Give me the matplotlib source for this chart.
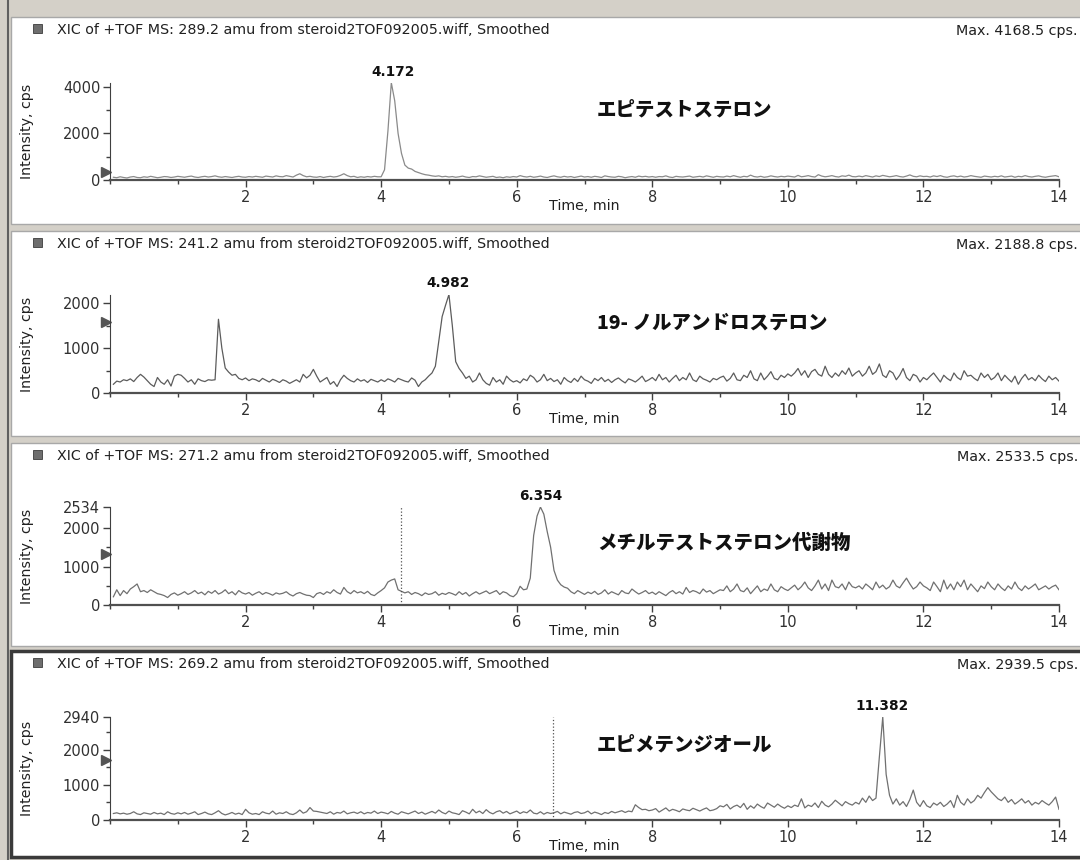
import numpy as np
import matplotlib
matplotlib.use("Agg")
import matplotlib.pyplot as plt
from matplotlib.patches import Rectangle
from matplotlib.lines import Line2D
from matplotlib.ticker import MultipleLocator
from matplotlib.transforms import blended_transform_factory

plt.rcParams['font.family'] = ['DejaVu Sans', 'Noto Sans CJK JP']

# scan grid: one point every 0.05 min from 0.05 to 14.0
scan_step = 0.05

mz = ["289.2", "241.2", "271.2", "269.2"]
max_cps = [4168.5, 2188.8, 2533.5, 2939.5]
peak_rt = ["4.172", "4.982", "6.354", "11.382"]
names = ["エピテストステロン", "19- ノルアンドロステロン",
         "メチルテストステロン代謝物", "エピメテンジオール"]
marker_level = [370, 1580, 1330, 1720]
cursor_rt = [None, None, 4.29, 6.53]
yticks_major = [[0, 2000, 4000], [0, 1000, 2000],
                [0, 1000, 2000, 2534], [0, 1000, 2000, 2940]]
yticks_minor = [[1000, 3000], [500, 1500], [500, 1500], [500, 1500, 2500]]

xic_289 = [
    130, 110, 150, 120, 100, 140, 160, 120, 110, 150, 130, 170, 140, 110, 130, 160, 150, 120, 140, 170,
    150, 130, 160, 180, 140, 120, 150, 170, 140, 160, 190, 150, 130, 160, 140, 120, 150, 170, 140, 130,
    160, 140, 170, 150, 130, 180, 160, 140, 190, 160, 150, 200, 170, 140, 220, 280, 200, 150, 170, 140,
    130, 160, 120, 150, 170, 140, 160, 210, 280, 200, 150, 170, 120, 150, 130, 160, 140, 170, 150, 150,
    450, 2100, 4168.5, 3400, 2000, 1150, 650, 520, 480, 380, 330, 280, 240, 220, 190, 170, 190, 150, 170, 140,
    160, 130, 150, 180, 140, 120, 160, 150, 190, 160, 130, 150, 170, 120, 140, 110, 150, 130, 160, 140,
    200, 160, 140, 170, 130, 150, 180, 140, 120, 160, 190, 150, 130, 170, 140, 160, 120, 150, 180, 140,
    160, 130, 170, 150, 120, 190, 160, 140, 130, 170, 150, 110, 140, 160, 130, 180, 150, 170, 140, 160,
    130, 160, 150, 190, 140, 120, 170, 150, 140, 160, 180, 130, 150, 170, 140, 190, 160, 130, 170, 150,
    140, 180, 150, 200, 160, 130, 170, 150, 220, 160, 140, 170, 130, 150, 190, 160, 140, 170, 150, 180,
    160, 140, 210, 150, 170, 200, 160, 140, 240, 180, 150, 170, 200, 160, 140, 190, 170, 220, 160, 150,
    180, 150, 200, 170, 140, 190, 160, 210, 180, 150, 170, 200, 160, 140, 180, 230, 170, 150, 190, 160,
    170, 140, 190, 160, 200, 150, 130, 170, 190, 150, 180, 140, 160, 200, 170, 150, 130, 180, 160, 140,
    170, 150, 190, 140, 160, 180, 130, 170, 150, 200, 160, 140, 170, 190, 150, 130, 160, 180, 200, 150,
]

xic_241 = [
    200, 270, 250, 300, 280, 320, 260, 350, 420, 360, 280, 200, 150, 350, 250, 200, 300, 160, 380, 420,
    400, 330, 250, 300, 200, 320, 280, 260, 300, 290, 300, 1640, 1000, 560, 470, 400, 420, 330, 300, 340,
    280, 320, 300, 260, 330, 290, 250, 310, 280, 240, 300, 270, 220, 260, 300, 250, 420, 340, 400, 530,
    380, 250, 300, 350, 200, 260, 150, 300, 400, 330, 280, 250, 320, 270, 300, 240, 310, 280, 250, 300,
    260, 320, 290, 250, 330, 300, 270, 250, 340, 290, 150, 250, 300, 380, 450, 600, 1150, 1700, 1950, 2188.8,
    1500, 700, 550, 450, 330, 380, 250, 300, 450, 300, 220, 180, 350, 250, 300, 200, 380, 300, 250, 280,
    230, 320, 280, 400, 350, 250, 300, 420, 280, 330, 260, 300, 200, 350, 280, 240, 330, 260, 380, 300,
    270, 220, 330, 280, 350, 260, 310, 240, 300, 340, 280, 230, 320, 290, 250, 310, 380, 260, 300, 350,
    280, 420, 300, 350, 250, 330, 400, 280, 350, 300, 450, 300, 260, 380, 320, 290, 250, 330, 300, 350,
    380, 270, 330, 450, 300, 280, 400, 350, 500, 320, 280, 450, 300, 380, 480, 330, 300, 400, 350, 430,
    380, 450, 550, 400, 500, 350, 480, 530, 420, 380, 600, 420, 350, 450, 380, 500, 420, 560, 380, 450,
    500, 380, 450, 600, 420, 480, 650, 400, 350, 500, 450, 300, 400, 550, 350, 280, 420, 380, 250, 350,
    300, 380, 450, 350, 250, 400, 330, 280, 450, 350, 300, 500, 380, 400, 330, 280, 450, 350, 420, 300,
    350, 450, 280, 400, 320, 250, 380, 200, 330, 420, 300, 350, 280, 400, 320, 260, 380, 300, 350, 270,
]

xic_271 = [
    220, 400, 250, 380, 300, 420, 480, 550, 350, 380, 330, 400, 350, 300, 280, 250, 200, 280, 320, 260,
    300, 350, 280, 320, 380, 300, 340, 270, 360, 310, 380, 290, 330, 400, 300, 350, 270, 380, 320, 290,
    330, 260, 310, 350, 280, 330, 300, 260, 320, 290, 310, 350, 280, 240, 300, 330, 290, 260, 250, 200,
    300, 330, 280, 350, 310, 400, 330, 290, 460, 350, 300, 380, 320, 350, 300, 360, 280, 250, 320, 380,
    450, 600, 650, 680, 400, 360, 320, 350, 280, 330, 300, 250, 320, 280, 300, 350, 260, 310, 280, 330,
    300, 260, 350, 280, 330, 240, 300, 350, 290, 330, 370, 300, 340, 380, 280, 350, 320, 250, 220, 300,
    490, 400, 420, 700, 1800, 2300, 2533.5, 2350, 1900, 1500, 900, 650, 530, 470, 440, 350, 300, 380, 330, 280,
    340, 300, 360, 280, 320, 400, 290, 350, 310, 270, 380, 320, 300, 420, 350, 290, 330, 380, 300, 340,
    280, 350, 300, 250, 330, 380, 300, 350, 290, 460, 330, 380, 350, 300, 420, 340, 380, 300, 350, 400,
    380, 500, 350, 420, 550, 380, 350, 450, 300, 400, 500, 350, 420, 380, 550, 400, 350, 480, 420, 380,
    450, 520, 400, 480, 600, 450, 380, 500, 650, 420, 550, 380, 650, 480, 450, 550, 400, 600, 480, 450,
    500, 420, 550, 480, 400, 600, 450, 520, 420, 480, 650, 500, 450, 580, 700, 550, 420, 480, 600, 500,
    450, 380, 600, 480, 350, 650, 420, 550, 400, 600, 480, 650, 400, 550, 450, 350, 500, 430, 600, 480,
    400, 550, 450, 380, 500, 420, 600, 450, 380, 500, 420, 480, 550, 400, 450, 500, 420, 480, 520, 400,
]

xic_269 = [
    180, 200, 170, 190, 160, 180, 230, 170, 150, 200, 180, 160, 210, 170, 190, 150, 230, 180, 160, 200,
    170, 210, 160, 190, 230, 150, 180, 220, 170, 150, 200, 260, 180, 140, 170, 210, 160, 190, 150, 300,
    200, 160, 180, 150, 230, 190, 170, 250, 160, 200, 180, 230, 170, 150, 200, 280, 190, 230, 350, 250,
    240, 220, 200, 180, 230, 160, 210, 190, 250, 170, 200, 220, 180, 230, 170, 210, 190, 250, 180, 220,
    200, 170, 240, 190, 160, 230, 200, 170, 210, 250, 180, 220, 160, 200, 240, 190, 280, 210, 170, 250,
    200, 180, 150, 260, 220, 170, 300, 200, 250, 180, 290, 210, 170, 230, 260, 190, 240, 170, 210, 250,
    180, 230, 200, 280, 190, 170, 230, 160, 210, 180, 200, 240, 170, 220, 190, 160, 210, 230, 180, 200,
    250, 170, 220, 190, 150, 210, 180, 240, 200, 230, 260, 210, 250, 230, 430, 350, 290, 300, 260, 280,
    320, 220, 280, 340, 250, 300, 270, 230, 310, 280, 260, 330, 290, 250, 300, 340, 260, 280, 320, 400,
    370, 440, 310, 380, 420, 350, 470, 300, 400, 330, 450, 380, 330, 480, 420, 360, 450, 380, 330, 400,
    350, 420, 380, 600, 340, 420, 380, 480, 350, 530, 420, 370, 450, 560, 480, 400, 520, 460, 420, 500,
    450, 620, 500, 680, 550, 620, 1800, 2939.5, 1300, 700, 450, 600, 420, 520, 380, 580, 850, 500, 380, 550,
    400, 350, 480, 420, 500, 380, 450, 550, 350, 700, 500, 420, 600, 480, 550, 700, 620, 780, 920, 800,
    700, 600, 550, 650, 500, 580, 450, 520, 600, 480, 550, 420, 500, 450, 550, 480, 420, 520, 650, 300,
]

traces = [xic_289, xic_241, xic_271, xic_269]
for tr in traces:
    assert len(tr) == 280, len(tr)

W, H = 1080, 860


def fx(px):
    return px / W


def fy(py):
    return 1 - py / H


# pixel layout of the four panes
boxes = [(17, 224), (231, 436), (443, 646), (651, 857)]
plot_y = [(82.7, 180.3), (294.5, 393.3), (507, 605.3), (717, 819.8)]
name_y = [110, 323, 543, 745]
line_col = ['#8a8a8a', '#5c5c5c', '#707070', '#707070']
x_left, x_right = 110, 1059

fig = plt.figure(figsize=(10.8, 8.6), dpi=100, facecolor='#d4d0c8')
fig.add_artist(Line2D([fx(8), fx(8)], [0, 1], color='#606060', lw=1.5, zorder=-5))

for i in range(4):
    top, bot = boxes[i]
    edge = '#3a3a3a' if i == 3 else '#a8a8a8'
    lw = 2.5 if i == 3 else 1.0
    fig.add_artist(Rectangle((fx(11), fy(bot)), 1.0, (bot - top) / H,
                             transform=fig.transFigure, facecolor='white',
                             edgecolor=edge, lw=lw, zorder=-5))
    # header line
    fig.add_artist(Rectangle((fx(33), fy(top + 16)), 9 / W, 9 / H,
                             transform=fig.transFigure, facecolor='#6e6e6e',
                             edgecolor='#3c3c3c', lw=0.6, zorder=-4))
    fig.text(fx(57), fy(top + 13.5),
             "XIC of +TOF MS: %s amu from steroid2TOF092005.wiff, Smoothed" % mz[i],
             fontsize=10.3, color='#202020', va='center')
    fig.text(fx(1078), fy(top + 13.5), "Max. %.1f cps." % max_cps[i],
             fontsize=10.3, color='#202020', va='center', ha='right')

    ytop, ybot = plot_y[i]
    ax = fig.add_axes([fx(x_left), fy(ybot), fx(x_right) - fx(x_left), (ybot - ytop) / H])
    ax.patch.set_alpha(0)
    t = scan_step * np.arange(1, len(traces[i]) + 1)
    ax.plot(t, traces[i], color=line_col[i], lw=0.9)
    ax.set_xlim(0, 14)
    ax.set_ylim(0, max_cps[i])

    for s in ['top', 'right']:
        ax.spines[s].set_visible(False)
    ax.spines['left'].set_color('#404040')
    ax.spines['bottom'].set_color('#505050')
    ax.spines['bottom'].set_linewidth(1.6)

    ax.set_xticks([2, 4, 6, 8, 10, 12, 14])
    ax.xaxis.set_minor_locator(MultipleLocator(1))
    ax.set_yticks(yticks_major[i])
    ax.set_yticks(yticks_minor[i], minor=True)
    ax.tick_params(which='major', length=5, width=1, color='#404040',
                   labelsize=10.5, labelcolor='#303030', pad=2)
    ax.tick_params(which='minor', length=3, width=1, color='#404040')

    # retention time of the apex
    rt = float(peak_rt[i])
    ax.annotate(peak_rt[i], xy=(rt, max_cps[i]), xytext=(0, 3),
                textcoords='offset points', ha='center', va='bottom',
                fontsize=9.8, fontweight='bold', color='#111111',
                annotation_clip=False)

    # threshold marker on the y axis
    tr_ = blended_transform_factory(ax.transAxes, ax.transData)
    ax.plot([-0.0045], [marker_level[i]], transform=tr_, marker='>', ms=7,
            color='#555555', clip_on=False)

    if cursor_rt[i] is not None:
        ax.axvline(cursor_rt[i], color='#505050', ls=':', lw=0.9)

    fig.text(fx(27.5), fy((ytop + ybot) / 2), "Intensity, cps", rotation=90,
             fontsize=10.2, color='#202020', ha='center', va='center')
    fig.text(fx((x_left + x_right) / 2), fy(ybot + 26), "Time, min",
             fontsize=10.2, color='#202020', ha='center', va='center')

    fig.text(fx(597), fy(name_y[i]), names[i], fontsize=14, fontweight='heavy',
             family=['Noto Sans CJK JP', 'DejaVu Sans'], color='#111111',
             va='center')

fig.savefig("out.png", dpi=100, facecolor=fig.get_facecolor())
